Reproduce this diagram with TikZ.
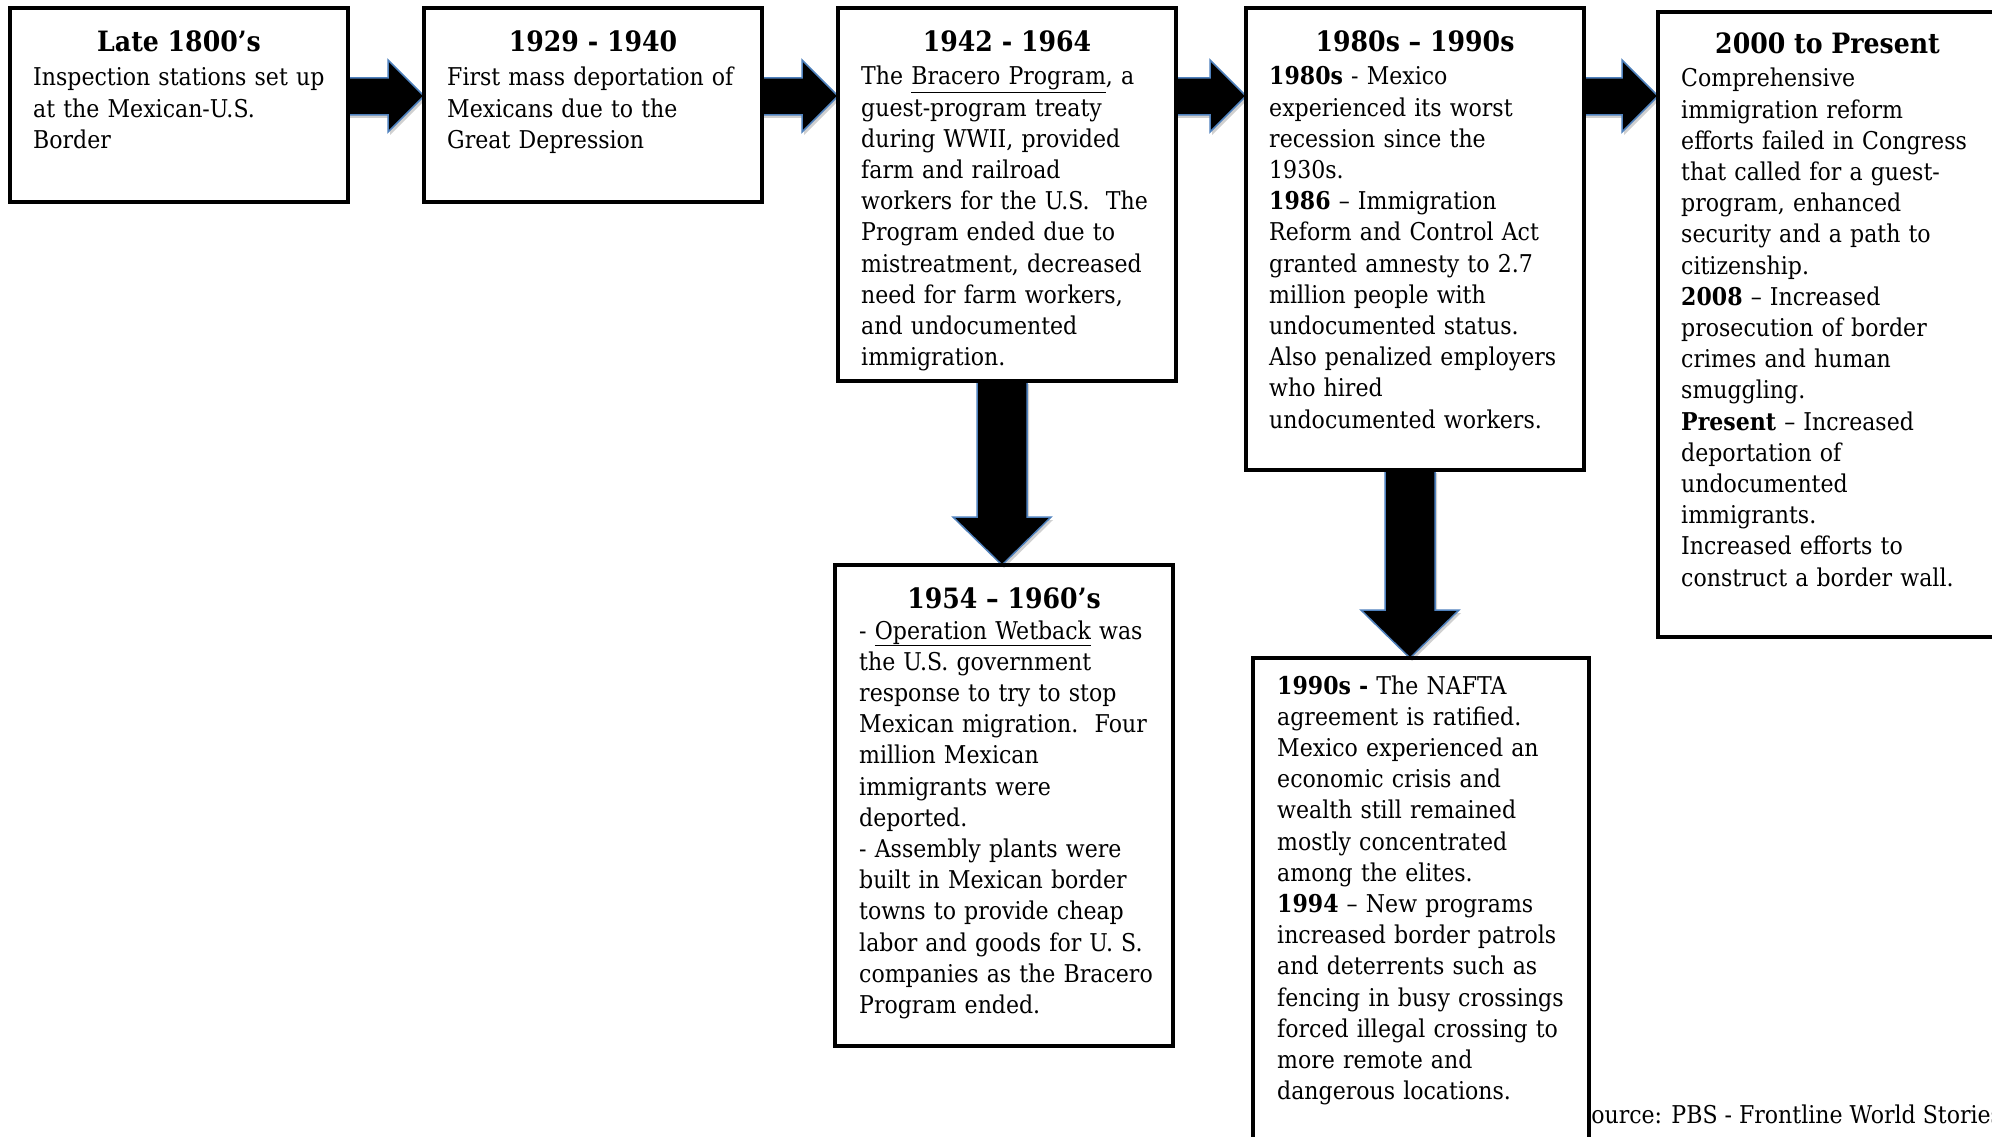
\documentclass[tikz,border=0pt]{standalone}
\usepackage{fontspec}
\setmainfont{DejaVu Serif}[FakeStretch=0.9]
\usetikzlibrary{calc,shadows}
\definecolor{arrowblue}{HTML}{4F81BD}
\newcommand\mkbox[5]{\node[tlbox,minimum width=#4pt,minimum height=#5pt] (#1) at (#2,#3) {};}
\newcommand\harr[2]{%
  \path[blockarrow] let \p1=(#1.north east), \p2=(#2.north west) in
    (\x1,\y1-70pt) -- (\x2-36pt,\y1-70pt) -- (\x2-36pt,\y1-52pt) -- (\x2,\y1-88pt)
    -- (\x2-36pt,\y1-124pt) -- (\x2-36pt,\y1-107pt) -- (\x1,\y1-107pt) -- cycle;}
\newcommand\varr[2]{%
  \path[blockarrow] let \p1=(#1.south), \p2=(#2.north) in
    (\x1-30pt,\y1) -- (\x1-30pt,\y2+48pt) -- (\x1-54pt,\y2+48pt) -- (\x1-5pt,\y2)
    -- (\x1+44pt,\y2+48pt) -- (\x1+20pt,\y2+48pt) -- (\x1+20pt,\y1) -- cycle;}
\tikzset{
  tlbox/.style={draw=black, line width=4.5pt, fill=white, anchor=north west, inner sep=0pt, outer sep=0pt},
  blockarrow/.style={fill=black, draw=arrowblue, line width=1.5pt, line join=miter,
    drop shadow={shadow xshift=2pt, shadow yshift=-3pt, opacity=0.3, fill=black!60}},
  ttl/.style={anchor=base, inner sep=0pt, font=\fontsize{28}{33}\selectfont\bfseries},
  body/.style={anchor=base west, inner sep=0pt, text width=340pt, align=left,
    font=\fontsize{24.5}{31.2}\selectfont},
}
\begin{document}
\begin{tikzpicture}[x=1pt,y=1pt]
\useasboundingbox (0,0) rectangle (1992,-1137);
\fill[white] (0,0) rectangle (1992,-1137);

% source line (partly hidden by the last box)
\node[anchor=base west, inner sep=0pt, font=\fontsize{24.5}{31.2}\selectfont] (src) at (1576,-1123) {Source: PBS - Frontline World Stories};

% boxes
\mkbox{b1}{10}{-8}{338}{194}
\mkbox{b2}{424}{-8}{338}{194}
\mkbox{b3}{838}{-8}{338}{373}
\mkbox{b4}{1246}{-8}{338}{462}
\mkbox{b5}{1658}{-12}{339}{625}
\mkbox{b6}{835}{-565}{338}{481}
\mkbox{b7}{1253}{-658}{336}{520}

% arrows
\harr{b1}{b2}
\harr{b2}{b3}
\harr{b3}{b4}
\harr{b4}{b5}
\varr{b3}{b6}
\varr{b4}{b7}

% redraw box borders over arrow ends
\foreach \b in {b1,b2,b3,b4,b5,b6,b7}{
  \draw[line width=4.5pt] (\b.north west) rectangle (\b.south east);
}

% titles
\node[ttl] (t1) at ($(b1.north)+(0,-44)$) {Late 1800’s};
\node[ttl] (t2) at ($(b2.north)+(0,-44)$) {1929 - 1940};
\node[ttl] (t3) at ($(b3.north)+(0,-44)$) {1942 - 1964};
\node[ttl] (t4) at ($(b4.north)+(0,-44)$) {1980s – 1990s};
\node[ttl] (t5) at ($(b5.north)+(0,-42)$) {2000 to Present};
\node[ttl] (t6) at ($(b6.north)+(0,-43)$) {1954 – 1960’s};

% bodies
\node[body] (x1) at ($(b1.north west)+(23,-78)$) {Inspection stations set up\\at the Mexican-U.S.\\Border};
\node[body] (x2) at ($(b2.north west)+(23,-78)$) {First mass deportation of\\Mexicans due to the\\Great Depression};
\node[body] (x3) at ($(b3.north west)+(23,-77)$) {The \underline{Bracero Program}, a\\guest-program treaty\\during WWII, provided\\farm and railroad\\workers for the U.S.\ \ The\\Program ended due to\\mistreatment, decreased\\need for farm workers,\\and undocumented\\immigration.};
\node[body] (x4) at ($(b4.north west)+(23,-77)$) {\textbf{1980s} - Mexico\\experienced its worst\\recession since the\\1930s.\\\textbf{1986} – Immigration\\Reform and Control Act\\granted amnesty to 2.7\\million people with\\undocumented status.\\Also penalized employers\\who hired\\undocumented workers.};
\node[body] (x5) at ($(b5.north west)+(23,-75)$) {Comprehensive\\immigration reform\\efforts failed in Congress\\that called for a guest-\\program, enhanced\\security and a path to\\citizenship.\\\textbf{2008} – Increased\\prosecution of border\\crimes and human\\smuggling.\\\textbf{Present} – Increased\\deportation of\\undocumented\\immigrants.\\Increased efforts to\\construct a border wall.};
\node[body] (x6) at ($(b6.north west)+(24,-74)$) {- \underline{Operation Wetback} was\\the U.S. government\\response to try to stop\\Mexican migration.\ \ Four\\million Mexican\\immigrants were\\deported.\\- Assembly plants were\\built in Mexican border\\towns to provide cheap\\labor and goods for U. S.\\companies as the Bracero\\Program ended.};
\node[body] (x7) at ($(b7.north west)+(24,-36)$) {\textbf{1990s -} The NAFTA\\agreement is ratified.\\Mexico experienced an\\economic crisis and\\wealth still remained\\mostly concentrated\\among the elites.\\\textbf{1994} – New programs\\increased border patrols\\and deterrents such as\\fencing in busy crossings\\forced illegal crossing to\\more remote and\\dangerous locations.};
\end{tikzpicture}
\end{document}
